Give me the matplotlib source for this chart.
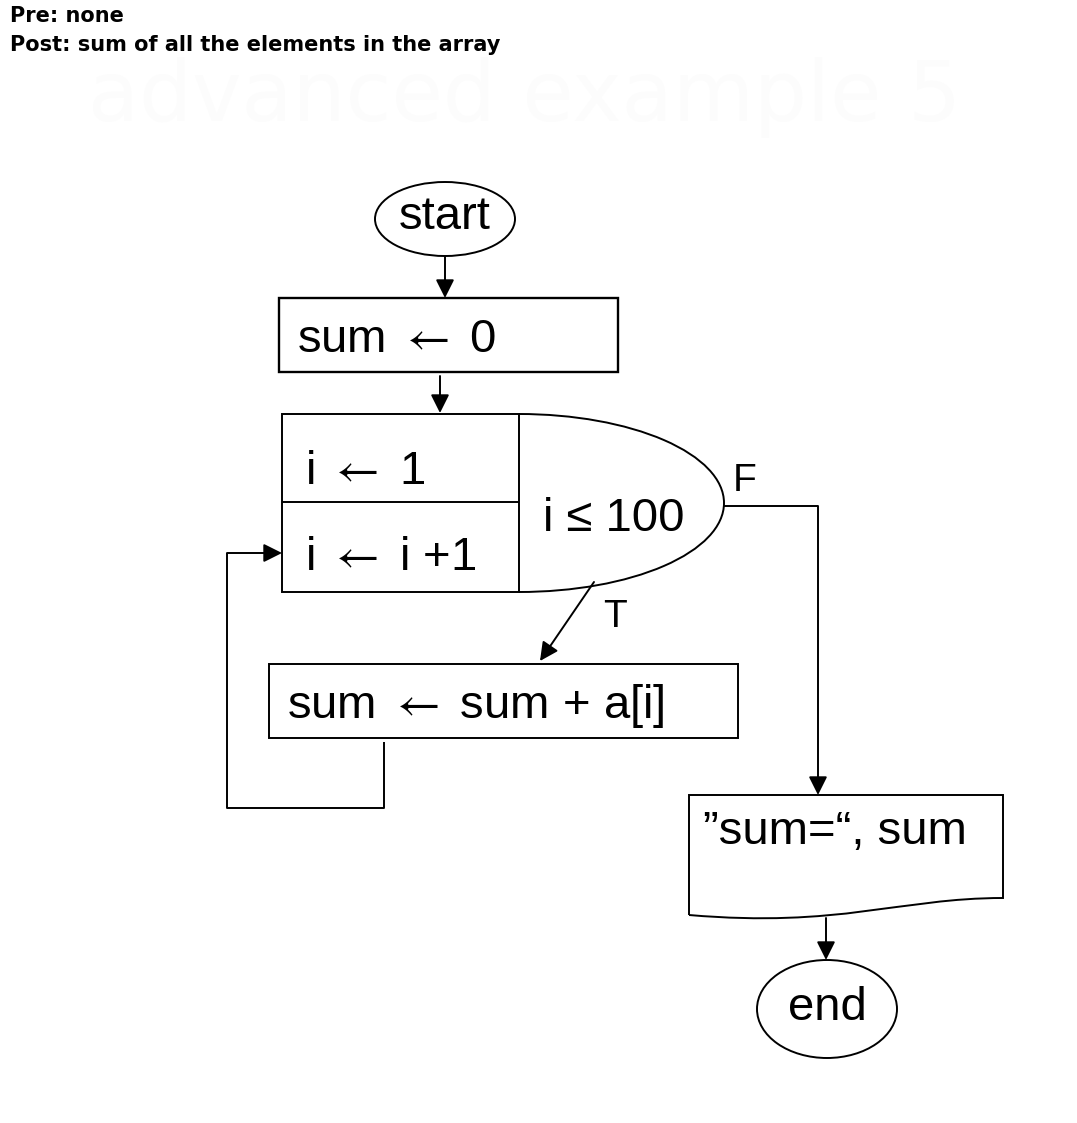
import matplotlib
matplotlib.use("Agg")
import matplotlib.pyplot as plt
from matplotlib.patches import Ellipse, Rectangle, Arc, PathPatch
from matplotlib.path import Path

plt.rcParams["mathtext.fontset"] = "stix"

# header lines and node labels
header_lines = ["Pre: none", "Post: sum of all the elements in the array"]
watermark = "advanced example 5"
start_label = "start"
init_label = r"sum $\leftarrow$ 0"
loop_init = r"i $\leftarrow$ 1"
loop_step = r"i $\leftarrow$ i +1"
loop_cond = "i \u2264 100"
body_label = r"sum $\leftarrow$ sum + a[i]"
output_label = "\u201dsum=\u201c, sum"
end_label = "end"
branch_labels = ["T", "F"]

W, H = 1077, 1123
fig = plt.figure(figsize=(W / 100, H / 100), dpi=100)
ax = fig.add_axes([0, 0, 1, 1])
ax.set_xlim(0, W)
ax.set_ylim(H, 0)
ax.axis("off")

font = ["Liberation Sans", "DejaVu Sans"]
lw = 1.4
fs = 34


def arrow(x0, y0, x1, y1):
    ax.annotate("", xy=(x1, y1), xytext=(x0, y0),
                arrowprops=dict(arrowstyle="-|>", color="black", lw=lw,
                                mutation_scale=28, shrinkA=0, shrinkB=0))


def line(xs, ys):
    ax.plot(xs, ys, color="black", lw=lw, solid_capstyle="butt")


# header
ax.text(10, 16, header_lines[0], fontsize=15, fontweight="bold",
        family="DejaVu Sans", va="center", ha="left")
ax.text(10, 45, header_lines[1], fontsize=15, fontweight="bold",
        family="DejaVu Sans", va="center", ha="left")
ax.text(525, 98, watermark, fontsize=60, color="#fcfcfc", family="DejaVu Sans",
        va="center", ha="center")

# start
ax.add_patch(Ellipse((445, 219), 140, 74, fill=False, lw=lw))
ax.text(445, 217, start_label, fontsize=fs, family=font, ha="center", va="center")
arrow(445, 257, 445, 298)

# sum <- 0
ax.add_patch(Rectangle((279, 298), 339, 74, fill=False, lw=lw + 0.3))
ax.text(297, 352, init_label, fontsize=fs, family=font, ha="left", va="baseline")
arrow(440, 376, 440, 413)

# loop box
ax.add_patch(Rectangle((282, 414), 237, 178, fill=False, lw=lw))
line([282, 519], [502, 502])
ax.add_patch(Arc((519, 503), 410, 178, theta1=-90, theta2=90, lw=lw))
ax.text(305, 484, loop_init, fontsize=fs, family=font, ha="left", va="baseline")
ax.text(305, 570, loop_step, fontsize=fs, family=font, ha="left", va="baseline")
ax.text(614, 531, loop_cond, fontsize=fs, family=font, ha="center", va="baseline")

# F branch
line([724, 818], [506, 506])
arrow(818, 506, 818, 795)
ax.text(745, 481, branch_labels[1], fontsize=28, family=font, ha="center", va="center")

# T branch
arrow(594, 582, 540, 661)
ax.text(615, 617, branch_labels[0], fontsize=28, family=font, ha="center", va="center")

# loop body
ax.add_patch(Rectangle((269, 664), 469, 74, fill=False, lw=lw))
ax.text(287, 718, body_label, fontsize=fs, family=font, ha="left", va="baseline")

# back edge
line([384, 384, 227, 227], [742, 808, 808, 553])
arrow(227, 553, 282, 553)

# output document
verts = [(689, 915), (689, 795), (1003, 795), (1003, 898),
         (900, 898), (840, 928), (689, 915)]
codes = [Path.MOVETO, Path.LINETO, Path.LINETO, Path.LINETO,
         Path.CURVE4, Path.CURVE4, Path.CURVE4]
ax.add_patch(PathPatch(Path(verts, codes), fill=False, lw=lw))
ax.text(703, 844, output_label, fontsize=fs, family=font, ha="left", va="baseline")
arrow(826, 918, 826, 960)

# end
ax.add_patch(Ellipse((827, 1009), 140, 98, fill=False, lw=lw))
ax.text(827, 1008, end_label, fontsize=fs, family=font, ha="center", va="center")

fig.savefig("out.png", dpi=100)
